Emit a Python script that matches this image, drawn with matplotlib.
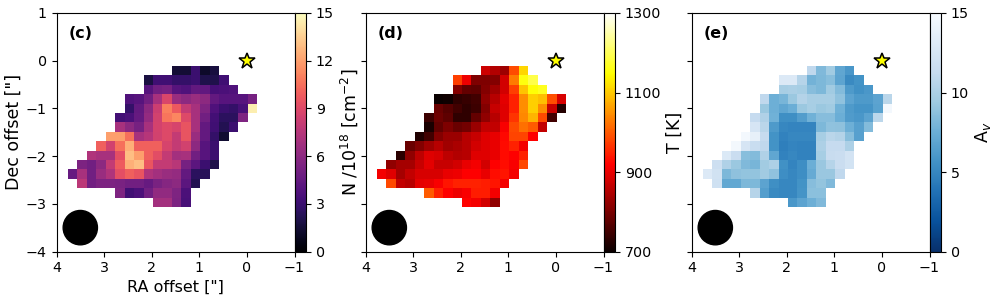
import matplotlib
matplotlib.use('Agg')
import matplotlib.pyplot as plt
import numpy as np
from matplotlib.patches import Circle

# first filled column of each row, top row first
row_start = [11, 8, 8, 6, 6, 5, 5, 4, 3, 2, 1, 0, 1, 5, 9]

# column density, /1e18 cm-2
column_density = [
    [1.5, 1.5, 3, 1.2, 1.7],
    [1.8, 3.2, 3.2, 2.8, 2.8, 3, 2, 2, 3.2],
    [4, 5, 5.2, 4, 3.8, 4.5, 4.4, 3.4, 3.6, 3.8],
    [3.8, 4, 5, 7, 8.8, 6.5, 6, 6.5, 6, 4.5, 4, 4, 4, 5.2],
    [2.8, 4.5, 6, 8.3, 11, 9.7, 8, 7, 5.5, 3.7, 3, 2.8, 3.5, 14.5],
    [3.3, 3.6, 4.6, 6.3, 8.5, 10.7, 11.2, 9, 7, 5, 3.3, 2.5, 2.5, 5.5],
    [7, 6, 5.2, 7, 8.6, 9, 8.7, 9.5, 7, 4.5, 3.2, 2.2, 3],
    [12, 12, 10.5, 7, 7.5, 8.5, 9, 8, 9.5, 6.5, 4.5, 2.8, 1.4],
    [10, 8.5, 10.5, 12.5, 10, 10, 10, 8.7, 8, 8.5, 6, 4, 3],
    [7.3, 7, 7, 9.3, 13, 12, 10, 9.2, 8, 6.8, 7, 5, 4, 3],
    [5.4, 5, 6, 8, 9.8, 12.5, 13, 9.6, 8, 8, 7.6, 5.2, 4.2, 3, 2],
    [4.6, 7, 5, 6.5, 7.3, 9.3, 10, 9.5, 7.3, 6.8, 6.5, 6.3, 4.5, 2.5, 2.4],
    [7.7, 5, 5.4, 5.4, 5.3, 5, 5, 4.6, 5.3, 5.8, 6, 4.2, 2.2],
    [5.5, 3.2, 3.6, 5, 6.2, 6.2, 5.5, 3.6],
    [6.8, 6.8, 5.4, 3.5],
]

# temperature, K
temperature = [
    [875, 850, 832, 988, 1112],
    [975, 905, 805, 805, 810, 880, 1030, 1155, 1190],
    [810, 780, 775, 810, 835, 880, 975, 1095, 1150, 1165],
    [702, 705, 735, 740, 750, 820, 855, 895, 950, 1045, 1105, 1090, 990, 885],
    [785, 770, 750, 735, 745, 810, 870, 890, 950, 1045, 1105, 1045, 870, 725],
    [745, 790, 775, 735, 735, 780, 820, 855, 890, 965, 1040, 1080, 985, 750],
    [715, 780, 805, 785, 795, 830, 865, 865, 915, 985, 1020, 1000, 865],
    [720, 750, 810, 830, 830, 855, 870, 890, 900, 925, 980, 980, 918],
    [785, 810, 835, 855, 835, 845, 855, 880, 890, 900, 928, 950, 910],
    [730, 820, 860, 890, 885, 860, 850, 855, 890, 890, 900, 928, 918, 950],
    [820, 840, 840, 870, 895, 870, 870, 880, 900, 910, 880, 918, 932, 915, 985],
    [910, 890, 840, 865, 885, 885, 885, 900, 905, 918, 918, 900, 932, 938, 910],
    [985, 865, 855, 895, 900, 915, 938, 950, 950, 950, 945, 938, 910],
    [1000, 950, 918, 905, 915, 945, 945, 910],
    [922, 910, 880, 820],
]

# visual extinction
extinction = [
    [11, 8.3, 9.5, 7, 6],
    [13, 13, 10.5, 7.8, 8.2, 8.6, 6.9, 5.2, 5.7],
    [9.9, 10, 9.8, 8.5, 8.2, 9.5, 8.4, 6.2, 5.6, 6],
    [11, 7.6, 8, 9.3, 10.4, 9.9, 9.9, 9.9, 8.9, 6.8, 6.2, 6.2, 6.8, 10.7],
    [9.3, 7.6, 7, 7.5, 9.3, 9.8, 9.3, 9.5, 7.7, 6.2, 5.8, 5.8, 6.7, 14.7],
    [11.3, 10.2, 7.7, 5.5, 5.5, 6.4, 7.7, 8.5, 8.5, 7.5, 6.3, 6, 6.8, 10.8],
    [12.5, 10.7, 6.2, 5, 4.9, 4.9, 4.9, 8.2, 8.9, 8.8, 7.6, 6.6, 8.4],
    [14.7, 13.8, 11.3, 5.7, 4.8, 5, 5, 5, 9.8, 10.7, 10.4, 8.6, 6.6],
    [14.7, 12.5, 11.5, 11, 5.7, 4.6, 4.9, 4.8, 4.8, 10.1, 11.3, 11.3, 10.1],
    [12.9, 11.6, 8.6, 8.4, 10.2, 7, 4.8, 5, 4.8, 4.8, 9.8, 11.4, 11.6, 12.3],
    [11.8, 10.2, 9.3, 8.3, 8, 9.6, 10.1, 5.6, 4.9, 5.4, 7.5, 9.2, 10.5, 11.6, 12.2],
    [13, 12.1, 8.2, 8.8, 9, 9, 9.6, 8.9, 5.4, 5, 5.4, 7.3, 9.2, 9.2, 11],
    [12, 7.1, 7.1, 8.2, 8.2, 6.8, 5.5, 5, 5, 5.7, 8.5, 9, 8.3],
    [10.5, 6.5, 5.2, 5, 5, 5.8, 8.7, 8.7],
    [6, 6.8, 7.6, 8.3],
]

panel_labels = ['(c)', '(d)', '(e)']
cbar_labels = ['N /10$^{18}$ [cm$^{-2}$]', 'T [K]', 'A$_v$']
cbar_ticks = [[0, 3, 6, 9, 12, 15], [700, 900, 1100, 1300], [0, 5, 10, 15]]
x_ticks = [4, 3, 2, 1, 0, -1]
y_ticks = [1, 0, -1, -2, -3, -4]


def to_grid(rows):
    grid = np.full((len(rows), 20), np.nan)
    for i, vals in enumerate(rows):
        grid[i, row_start[i]:row_start[i] + len(vals)] = vals
    return grid


W, H = 996.0, 301.0
fig = plt.figure(figsize=(W / 100, H / 100), dpi=100)

panels = [
    (column_density, 'magma', 0, 15, 56.5),
    (temperature, 'hot', 700, 1300, 365.5),
    (extinction, 'Blues_r', 0, 15, 691.5),
]

for k, (rows, cmap, vmin, vmax, left) in enumerate(panels):
    ax = fig.add_axes([left / W, 1 - 251.5 / H, 238 / W, 238.5 / H])
    im = ax.imshow(to_grid(rows), cmap=cmap, vmin=vmin, vmax=vmax, aspect='auto',
                   interpolation='nearest', extent=(3.75, -0.2, -3.07, -0.13))
    ax.set_xlim(4, -1)
    ax.set_ylim(-4, 1)
    ax.set_xticks(x_ticks)
    ax.set_xticklabels(['\u2212' + str(-t) if t < 0 else str(t) for t in x_ticks])
    ax.set_yticks(y_ticks)
    ax.tick_params(labelsize=10.3)
    if k == 0:
        ax.set_yticklabels(['\u2212' + str(-t) if t < 0 else str(t) for t in y_ticks])
        ax.set_xlabel('RA offset ["]', fontsize=11.5, labelpad=3)
        ax.set_ylabel('Dec offset ["]', fontsize=12.5, labelpad=2)
    else:
        ax.set_yticklabels([])
    ax.text(0.05, 0.915, panel_labels[k], transform=ax.transAxes, fontsize=11.5,
            fontweight='bold', va='center')
    ax.plot(0, 0, marker='*', ms=12, mfc='yellow', mec='black', mew=1.1, ls='none')
    ax.add_patch(Circle((3.5, -3.5), 0.36, color='black', zorder=5))

    cax = fig.add_axes([(left + 238.5) / W, 1 - 251.5 / H, 11 / W, 238.5 / H])
    cb = fig.colorbar(im, cax=cax)
    cb.set_ticks(cbar_ticks[k])
    cb.ax.tick_params(labelsize=10.3)
    cb.set_label(cbar_labels[k], fontsize=12.5, labelpad=3)

fig.savefig('out.png', dpi=100)
